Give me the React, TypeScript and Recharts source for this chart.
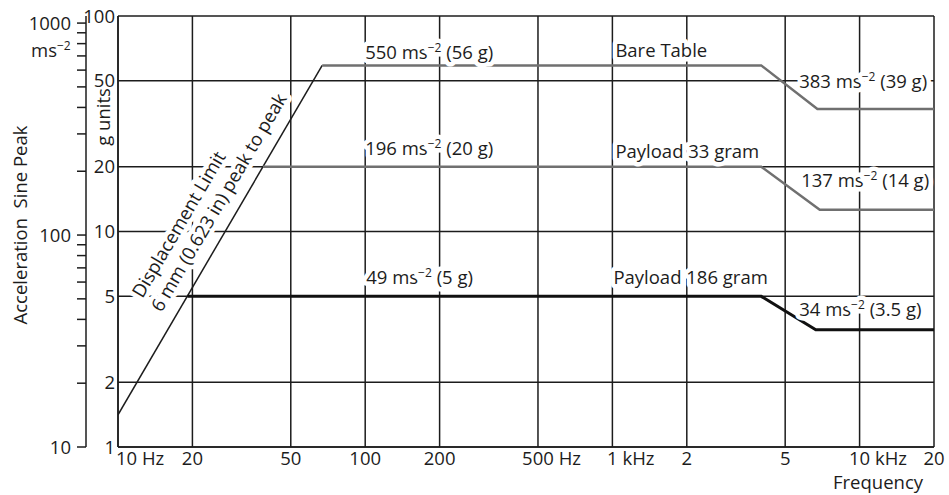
import {
  LineChart,
  Line,
  XAxis,
  YAxis,
  CartesianGrid,
  ReferenceDot,
} from "recharts";

const FONT = '"Open Sans", "Noto Sans", sans-serif';
const INK = "#1c1c1c";
const FS = 18.5;

// frequency axis (Hz)
const freqTicks = [10, 20, 50, 100, 200, 500, 1000, 2000, 5000, 10000, 20000];
const freqTickLabels = ["10 Hz", "20", "50", "100", "200", "500 Hz", "1 kHz", "2", "5", "10 kHz", "20"];

// inner axis, g units
const gTicks = [1, 2, 5, 10, 20, 50, 100];

// outer axis, ms^-2 (only decades get a number)
const msTicks = [10, 20, 30, 40, 50, 60, 70, 80, 90, 100, 200, 300, 400, 500, 600, 700, 800, 900, 1000];
const msLabelled = [10, 100, 1000];

// curves: frequency (Hz) against level (g)
const displacementFreq = [10, 67];
const displacementG = [1.41, 59];
const bareTableFreq = [67, 4000, 6750, 20000];
const bareTableG = [59, 59, 37, 37];
const payload33Freq = [38.6, 4000, 6900, 20000];
const payload33G = [20, 20, 12.6, 12.6];
const payload186Freq = [19.1, 4000, 6650, 20000];
const payload186G = [5, 5, 3.5, 3.5];

// annotation texts: [text, superscript, tail]
const levelLabels = [
  ["550 ms", "−2", "(56 g)"],
  ["Bare Table"],
  ["383 ms", "−2", "(39 g)"],
  ["196 ms", "−2", "(20 g)"],
  ["Payload 33 gram"],
  ["137 ms", "−2", "(14 g)"],
  ["49 ms", "−2", "(5 g)"],
  ["Payload 186 gram"],
  ["34 ms", "−2", "(3.5 g)"],
];
const displacementText = ["Displacement Limit", "6 mm (0.623 in) peak to peak"];

const toPoints = (fs: number[], gs: number[]) => fs.map((f, i) => ({ f, g: gs[i] }));

const textStyle = {
  fontFamily: FONT,
  fontSize: FS,
  fill: INK,
};
// white outline so the grid breaks around the labels, as in the printed chart
const halo = {
  stroke: "#fff",
  strokeWidth: 9,
  strokeLinejoin: "round" as const,
  style: { paintOrder: "stroke" as const },
};

function levelText(i: number, dx: number, dy: number) {
  return ({ viewBox }: any) => {
    const [pre, sup, post] = levelLabels[i];
    return (
      <text x={viewBox.x + dx} y={viewBox.y + dy} {...textStyle} {...halo}>
        {pre}
        {sup && (
          <tspan dy={-7} fontSize={12}>
            {sup}
          </tspan>
        )}
        {sup && <tspan dy={7}> {post}</tspan>}
      </text>
    );
  };
}

function slantText(i: number, dx: number, dy: number) {
  return ({ viewBox }: any) => {
    const cx = viewBox.x + dx;
    const cy = viewBox.y + dy;
    return (
      <text
        x={cx}
        y={cy}
        transform={`rotate(-59.6 ${cx} ${cy})`}
        textAnchor="middle"
        dominantBaseline="central"
        {...textStyle}
        {...halo}
      >
        {displacementText[i]}
      </text>
    );
  };
}

// eslint-disable-next-line @typescript-eslint/no-explicit-any
function FreqTick({ x, y, payload, index }: any) {
  const label = freqTickLabels[freqTicks.indexOf(payload.value)] ?? "";
  const [num, unit] = label.split(" ");
  const numW = num.length * 0.572 * FS;
  // first label sits to the right of the corner
  const left = index === 0 ? x - 2 : x - numW / 2;
  return (
    <g>
      <text x={left} y={y} dy="0.71em" textAnchor="start" {...textStyle}>
        {num}
      </text>
      {unit && (
        <text x={left + numW + 0.26 * FS} y={y} dy="0.71em" textAnchor="start" {...textStyle}>
          {unit}
        </text>
      )}
    </g>
  );
}

function freqLabel({ viewBox }: any) {
  return (
    <text x={viewBox.x + viewBox.width - 56} y={viewBox.y + 42} textAnchor="middle" {...textStyle}>
      Frequency
    </text>
  );
}

function gUnitsLabel({ viewBox }: any) {
  const cx = viewBox.x + 16;
  const cy = viewBox.y + 101;
  return (
    <text
      x={cx}
      y={cy}
      transform={`rotate(-90 ${cx} ${cy})`}
      textAnchor="middle"
      dominantBaseline="central"
      {...textStyle}
    >
      g units
    </text>
  );
}

function accelLabel({ viewBox }: any) {
  const cx = viewBox.x + 19;
  const cy = viewBox.y + 209;
  return (
    <g>
      <text
        x={cx}
        y={cy}
        transform={`rotate(-90 ${cx} ${cy})`}
        textAnchor="middle"
        dominantBaseline="central"
        {...textStyle}
        style={{ whiteSpace: "pre" }}
      >
        {"Acceleration  Sine Peak"}
      </text>
      <text x={viewBox.x + 31} y={viewBox.y + 41} {...textStyle}>
        ms
        <tspan dy={-7} fontSize={12}>
          −2
        </tspan>
      </text>
    </g>
  );
}

export default function App() {
  const axisLine = { stroke: INK, strokeWidth: 1.5 };
  return (
    <div style={{ position: "absolute", left: 0, top: 0, background: "#fff" }}>
      <LineChart width={949} height={495} margin={{ top: 16, right: 15, bottom: 0, left: 0 }}>
        <CartesianGrid xAxisId="x" yAxisId="g" stroke={INK} strokeWidth={1.5} />
        <XAxis
          xAxisId="x"
          dataKey="f"
          type="number"
          scale="log"
          domain={[10, 20000]}
          ticks={freqTicks}
          interval={0}
          height={48}
          axisLine={axisLine}
          tickLine={false}
          tickSize={0}
          tickMargin={5}
          tick={(p: any) => <FreqTick {...p} />}
          label={freqLabel}
          allowDataOverflow
        />
        <YAxis
          yAxisId="g"
          type="number"
          scale="log"
          domain={[1, 100]}
          ticks={gTicks}
          interval={0}
          width={32}
          axisLine={axisLine}
          tickLine={false}
          tickSize={0}
          tickMargin={3}
          tick={textStyle}
          label={gUnitsLabel}
          allowDataOverflow
        />
        <YAxis
          yAxisId="ms"
          type="number"
          scale="log"
          domain={[10, 1080]}
          ticks={msTicks}
          interval={0}
          width={86}
          axisLine={axisLine}
          tickLine={axisLine}
          tickSize={9}
          tickMargin={6}
          tick={textStyle}
          tickFormatter={(v: number) => (msLabelled.includes(v) ? String(v) : "")}
          label={accelLabel}
          allowDataOverflow
        />

        <Line
          xAxisId="x"
          yAxisId="g"
          data={toPoints(displacementFreq, displacementG)}
          dataKey="g"
          type="linear"
          stroke={INK}
          strokeWidth={1.5}
          dot={false}
          isAnimationActive={false}
        />
        <Line
          xAxisId="x"
          yAxisId="g"
          data={toPoints(bareTableFreq, bareTableG)}
          dataKey="g"
          type="linear"
          stroke="#707070"
          strokeWidth={2.5}
          dot={false}
          isAnimationActive={false}
        />
        <Line
          xAxisId="x"
          yAxisId="g"
          data={toPoints(payload33Freq, payload33G)}
          dataKey="g"
          type="linear"
          stroke="#707070"
          strokeWidth={2.5}
          dot={false}
          isAnimationActive={false}
        />
        <Line
          xAxisId="x"
          yAxisId="g"
          data={toPoints(payload186Freq, payload186G)}
          dataKey="g"
          type="linear"
          stroke="#111"
          strokeWidth={3}
          dot={false}
          isAnimationActive={false}
        />

        <ReferenceDot xAxisId="x" yAxisId="g" x={100} y={59} r={0} label={levelText(0, 0, -6)} />
        <ReferenceDot xAxisId="x" yAxisId="g" x={1000} y={59} r={0} label={levelText(1, 3, -8)} />
        <ReferenceDot xAxisId="x" yAxisId="g" x={5000} y={37} r={0} label={levelText(2, 14, -21)} />
        <ReferenceDot xAxisId="x" yAxisId="g" x={100} y={20} r={0} label={levelText(3, 0, -12)} />
        <ReferenceDot xAxisId="x" yAxisId="g" x={1000} y={20} r={0} label={levelText(4, 3, -9)} />
        <ReferenceDot xAxisId="x" yAxisId="g" x={5000} y={12.6} r={0} label={levelText(5, 16, -23)} />
        <ReferenceDot xAxisId="x" yAxisId="g" x={100} y={5} r={0} label={levelText(6, 1, -12)} />
        <ReferenceDot xAxisId="x" yAxisId="g" x={1000} y={5} r={0} label={levelText(7, 1, -12)} />
        <ReferenceDot xAxisId="x" yAxisId="g" x={5000} y={3.5} r={0} label={levelText(8, 14, -14)} />
        <ReferenceDot xAxisId="x" yAxisId="g" x={30} y={12.2} r={0} label={slantText(0, -58, 11)} />
        <ReferenceDot xAxisId="x" yAxisId="g" x={30} y={12.2} r={0} label={slantText(1, -18, -11)} />
      </LineChart>
    </div>
  );
}
